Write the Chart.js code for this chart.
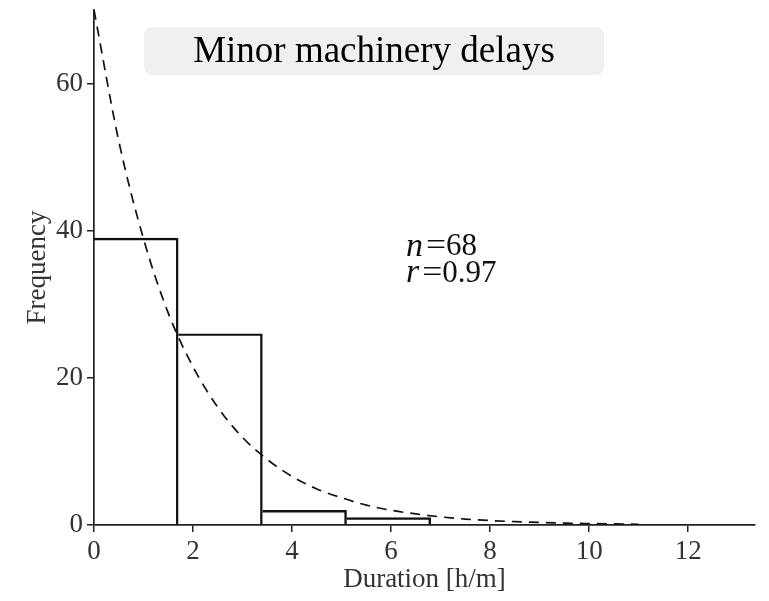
<!DOCTYPE html>
<html>
<head>
<meta charset="utf-8">
<script src="https://cdn.jsdelivr.net/npm/chart.js@4/dist/chart.umd.min.js"></script>
<style>
  html, body { margin: 0; padding: 0; background: #ffffff; }
  #wrap { width: 769px; height: 601px; position: relative; }
</style>
</head>
<body>
<div id="wrap"><canvas id="c" width="769" height="601"></canvas></div>
<script>
// ---- Data ----
const binEdges = [0, 1.7, 3.4, 5.1, 6.8];
const binCounts = [39, 26, 2, 1];
const curveX = [0, 0.5, 1, 1.5, 2, 2.5, 3, 3.5, 4, 4.5, 5, 5.5, 6, 6.5, 7, 7.5, 8, 8.5, 9, 9.5, 10, 10.5, 11];
const curveY = [70, 52.2, 38.9, 28.8, 21.5, 16.0, 11.9, 8.9, 6.6, 4.9, 3.7, 2.7, 2.0, 1.5, 1.1, 0.8, 0.6, 0.46, 0.34, 0.25, 0.19, 0.14, 0.1];
const xTicks = [0, 2, 4, 6, 8, 10, 12];
const yTicks = [0, 20, 40, 60];
const titleText = 'Minor machinery delays';
const statN = '68';
const statR = '0.97';

// ---- Build library data ----
const barData = binCounts.map((c, i) => ({ x: (binEdges[i] + binEdges[i + 1]) / 2, y: c }));
const curveData = curveX.map((x, i) => ({ x: x, y: curveY[i] }));

const SERIF = '"Liberation Serif", "Times New Roman", serif';
const AXIS_COLOR = '#222';

const overlay = {
  id: 'overlay',
  afterDraw(chart) {
    const ctx = chart.ctx;
    const xs = chart.scales.x, ys = chart.scales.y;
    ctx.save();
    // title box
    const bx = 144, by = 27, bw = 460, bh = 48, r = 8;
    ctx.fillStyle = '#f0f0f0';
    ctx.beginPath();
    ctx.moveTo(bx + r, by);
    ctx.arcTo(bx + bw, by, bx + bw, by + bh, r);
    ctx.arcTo(bx + bw, by + bh, bx, by + bh, r);
    ctx.arcTo(bx, by + bh, bx, by, r);
    ctx.arcTo(bx, by, bx + bw, by, r);
    ctx.closePath();
    ctx.fill();
    ctx.fillStyle = '#000';
    ctx.font = '37px ' + SERIF;
    ctx.textAlign = 'center';
    ctx.textBaseline = 'middle';
    ctx.fillText(titleText, bx + bw / 2, by + bh / 2 + 1);

    // statistics annotation
    const ax = xs.getPixelForValue(6.3);
    const lines = [['n', statN, ys.getPixelForValue(37.8)], ['r', statR, ys.getPixelForValue(34.2)]];
    ctx.textAlign = 'left';
    ctx.textBaseline = 'middle';
    ctx.fillStyle = '#111';
    lines.forEach(([v, val, py]) => {
      ctx.font = 'italic 34px ' + SERIF;
      ctx.fillText(v, ax, py);
      const w = ctx.measureText(v).width;
      ctx.font = '31px ' + SERIF;
      const ex = ax + w + 3;
      ctx.save();
      ctx.translate(ex, py);
      ctx.scale(1.15, 1);
      ctx.fillText('=', 0, 0);
      ctx.restore();
      const we = ctx.measureText('=').width * 1.15;
      ctx.fillText(val, ex + we, py);
    });
    ctx.restore();
  }
};

function noPad(s) { s.paddingTop = 0; s.paddingBottom = 0; s.paddingLeft = 0; s.paddingRight = 0; }

new Chart(document.getElementById('c'), {
  type: 'bar',
  data: {
    datasets: [
      {
        type: 'line',
        data: curveData,
        borderColor: '#111',
        borderWidth: 1.7,
        borderDash: [10, 7],
        pointRadius: 0,
        fill: false,
        cubicInterpolationMode: 'monotone',
        order: 0
      },
      {
        type: 'bar',
        data: barData,
        backgroundColor: 'rgba(255,255,255,0)',
        borderColor: '#111',
        borderWidth: { top: 1.8, right: 1.8, left: 0, bottom: 0 },
        borderSkipped: false,
        barPercentage: 1,
        categoryPercentage: 1,
        order: 1
      }
    ]
  },
  options: {
    responsive: false,
    animation: false,
    layout: { padding: { top: 10, right: 14, left: 0, bottom: 0 } },
    plugins: { legend: { display: false }, tooltip: { enabled: false }, title: { display: false } },
    scales: {
      x: {
        type: 'linear',
        min: 0,
        max: 13.35,
        offset: false,
        afterFit: s => { s.height = 76; noPad(s); },
        afterBuildTicks: s => { s.ticks = xTicks.map(v => ({ value: v })); },
        grid: { display: true, drawOnChartArea: false, drawTicks: true, tickLength: 7, color: AXIS_COLOR, lineWidth: 1.5, offset: false },
        border: { display: true, color: AXIS_COLOR, width: 1.7 },
        ticks: { color: '#333', font: { family: SERIF, size: 27 }, padding: 4, maxRotation: 0, autoSkip: false },
        title: { display: true, text: 'Duration [h/m]', color: '#333', font: { family: SERIF, size: 27 }, padding: { top: 0, bottom: 5 } }
      },
      y: {
        type: 'linear',
        min: 0,
        max: 70,
        afterFit: s => { s.width = 94; noPad(s); },
        afterBuildTicks: s => { s.ticks = yTicks.map(v => ({ value: v })); },
        grid: { display: true, drawOnChartArea: false, drawTicks: true, tickLength: 7, color: AXIS_COLOR, lineWidth: 1.5 },
        border: { display: true, color: AXIS_COLOR, width: 1.7 },
        ticks: { color: '#333', font: { family: SERIF, size: 27 }, padding: 4 },
        title: { display: true, text: 'Frequency', color: '#333', font: { family: SERIF, size: 27 }, padding: { top: 22, bottom: 0 } }
      }
    }
  },
  plugins: [overlay]
});
</script>
</body>
</html>
